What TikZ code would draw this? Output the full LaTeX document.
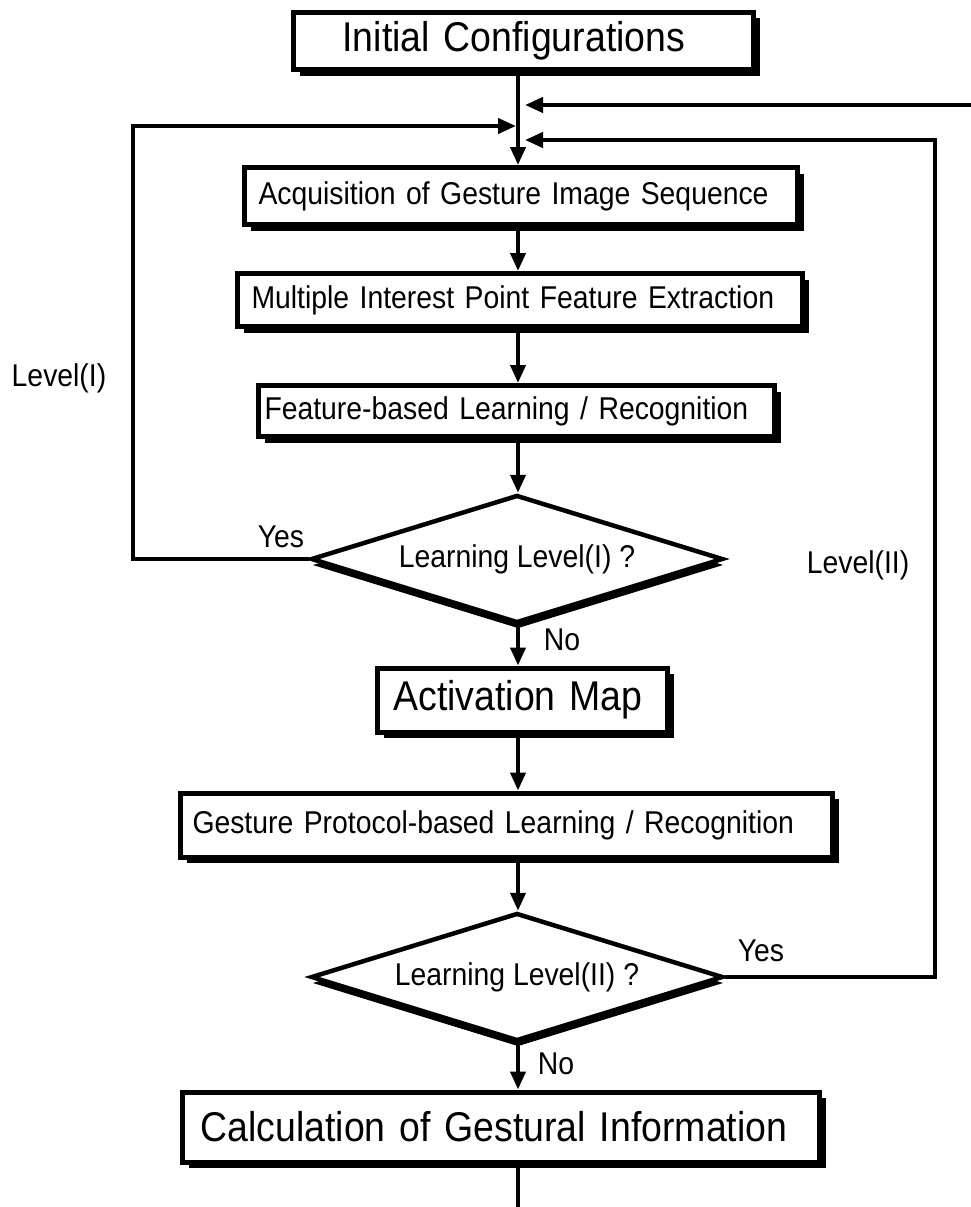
\documentclass[tikz,border=0pt]{standalone}
\usepackage{fontspec}
\setmainfont[FakeStretch=0.90]{Liberation Sans}
\usetikzlibrary{arrows.meta,shapes.geometric,shadows}
\begin{document}
\begin{tikzpicture}[x=1pt,y=-1pt,
  small/.style={font=\fontsize{31.5}{36}\selectfont},
  large/.style={font=\fontsize{41.6}{48}\selectfont},
  procbox/.style={draw, line width=5pt, fill=white, anchor=west, align=left, inner ysep=0pt,
     drop shadow={shadow xshift=6pt, shadow yshift=-6pt, opacity=1, fill=black}},
  decision/.style={diamond, aspect=3.2, draw, line width=4.5pt, fill=white, inner sep=0pt,
     minimum width=412pt, minimum height=128pt, small,
     drop shadow={shadow xshift=1pt, shadow yshift=-6pt, opacity=1, fill=black}},
  link/.style={line width=4pt},
  arr/.style={link, -{Triangle[length=18pt,width=15pt]}},
  lbl/.style={small, inner sep=0pt}
]
\useasboundingbox (0,0) rectangle (971,1207);

% process boxes
\node[procbox, large, minimum height=57pt, inner xsep=49pt, text width=362pt] (init) at (291,41) {Initial Configurations};
\node[procbox, small, minimum height=57pt, inner xsep=14pt, text width=525pt] (acq) at (242,196) {Acquisition of Gesture Image Sequence};
\node[procbox, small, minimum height=53pt, inner xsep=14pt, text width=537pt] (mip) at (235,300) {Multiple Interest Point Feature Extraction};
\node[procbox, small, minimum height=51pt, inner xsep=6pt, text width=504pt] (feat) at (256,411) {Feature-based Learning / Recognition};
\node[procbox, large, minimum height=64pt, inner xsep=16pt, text width=258pt] (act) at (375,700) {Activation Map};
\node[procbox, small, minimum height=64pt, inner xsep=12pt, text width=628pt] (gp) at (178,825) {Gesture Protocol-based Learning / Recognition};
\node[procbox, large, minimum height=70pt, inner xsep=18pt, text width=601pt] (calc) at (180,1127) {Calculation of Gestural Information};

% decisions
\node[decision] (d1) at (517,559) {Learning Level(I) ?};
\node[decision] (d2) at (517,977) {Learning Level(II) ?};

% helper coordinates
\coordinate (spine) at (518,0);
\coordinate (lj) at (516,126);
\coordinate (rj1) at (525,105);
\coordinate (rj2) at (525,140);
\coordinate (feed) at (971,105);
\coordinate (lx) at (133,0);
\coordinate (rx) at (935,0);
\coordinate (exit) at (518,1207);

% main flow
\draw[arr] (init.south -| spine) -- (acq.north -| spine);
\draw[arr] (acq.south -| spine) -- (mip.north -| spine);
\draw[arr] (mip.south -| spine) -- (feat.north -| spine);
\draw[arr] (feat.south -| spine) -- (d1.north -| spine);
\draw[arr] (d1.south -| spine) -- (act.north -| spine);
\draw[arr] (act.south -| spine) -- (gp.north -| spine);
\draw[arr] (gp.south -| spine) -- (d2.north -| spine);
\draw[arr] (d2.south -| spine) -- (calc.north -| spine);
\draw[link] (calc.south -| spine) -- (exit);

% feedback loops
\draw[arr] (d1.west) -- (d1.west -| lx) |- (lj);
\draw[arr] (d2.east) -- (d2.east -| rx) |- (rj2);
\draw[arr] (feed) -- (rj1);

% labels
\node[lbl] (lvl1) at (59,378) {Level(I)};
\node[lbl] (yes1) at (281,537) {Yes};
\node[lbl] (no1) at (562,640) {No};
\node[lbl] (lvl2) at (858,565) {Level(II)};
\node[lbl] (yes2) at (761,951) {Yes};
\node[lbl] (no2) at (556,1064) {No};
\end{tikzpicture}
\end{document}
